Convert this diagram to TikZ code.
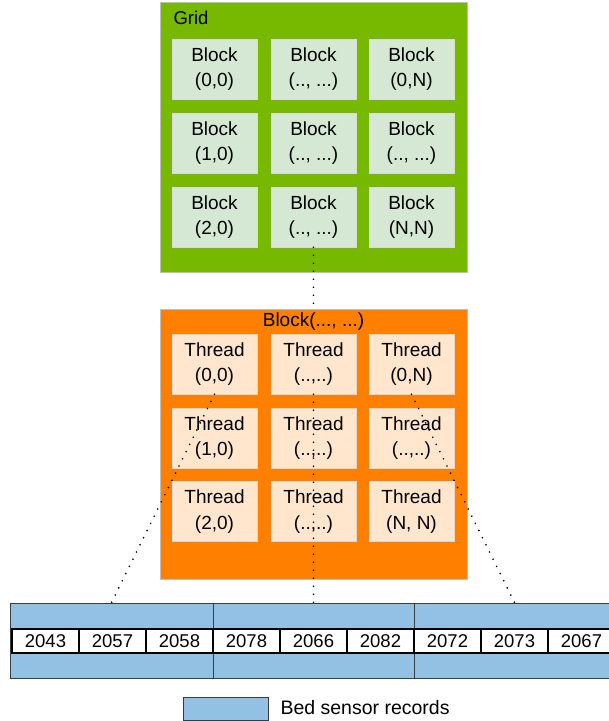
\documentclass[tikz,border=0pt]{standalone}
\usepackage{fontspec}
\setmainfont{Liberation Sans}
\definecolor{gridgreen}{HTML}{77B900}
\definecolor{blockfill}{HTML}{D5E8D4}
\definecolor{orangebox}{HTML}{FF8000}
\definecolor{threadfill}{HTML}{FFE6CC}
\definecolor{recblue}{HTML}{92C1E4}
\definecolor{recborder}{HTML}{3A3D40}
\tikzset{
  outerbox/.style={draw=black!25, line width=0.8pt, minimum width=307pt, minimum height=270pt, inner sep=0pt},
  cellbox/.style={draw=black!15, line width=0.5pt, minimum width=85pt, minimum height=60pt, inner sep=0pt, align=center, font=\fontsize{19}{25.5}\selectfont},
  blockcell/.style={cellbox, fill=blockfill},
  threadcell/.style={cellbox, fill=threadfill},
  recsec/.style={draw=recborder, line width=1pt, fill=recblue, minimum width=201pt, minimum height=75pt, inner sep=0pt},
  numcell/.style={draw=black, line width=1.6pt, fill=white, minimum width=67pt, minimum height=24pt, inner sep=0pt, font=\fontsize{18.5}{20}\selectfont},
  dotline/.style={line width=1.8pt, dash pattern=on 0pt off 8pt, line cap=round},
}
\begin{document}
\begin{tikzpicture}[x=1pt,y=-1pt]
\useasboundingbox (0,0) rectangle (609,721);
\clip (0,0) rectangle (609,721);
% Grid
\node[outerbox, fill=gridgreen] (grid) at (313.5,137) {};
\node[anchor=west, font=\fontsize{18.5}{20}\selectfont] (gridlbl) at (170,18) {Grid};
\node[blockcell] (b00) at (214.5,69) {Block\\(0,0)};
\node[blockcell] (b01) at (313.5,69) {Block\\(.., ...)};
\node[blockcell] (b02) at (411.5,69) {Block\\(0,N)};
\node[blockcell] (b10) at (214.5,143) {Block\\(1,0)};
\node[blockcell] (b11) at (313.5,143) {Block\\(.., ...)};
\node[blockcell] (b12) at (411.5,143) {Block\\(.., ...)};
\node[blockcell] (b20) at (214.5,217) {Block\\(2,0)};
\node[blockcell] (b21) at (313.5,217) {Block\\(.., ...)};
\node[blockcell] (b22) at (411.5,217) {Block\\(N,N)};
% Block
\node[outerbox, fill=orangebox] (blk) at (313.5,444) {};
\node[font=\fontsize{19}{20}\selectfont] (blklbl) at (313.5,322) {Block(..., ...)};
\node[threadcell] (t00) at (214.5,364) {Thread\\(0,0)};
\node[threadcell] (t01) at (313.5,364) {Thread\\(..,..)};
\node[threadcell] (t02) at (411.5,364) {Thread\\(0,N)};
\node[threadcell] (t10) at (214.5,438) {Thread\\(1,0)};
\node[threadcell] (t11) at (313.5,438) {Thread\\(..,..)};
\node[threadcell] (t12) at (411.5,438) {Thread\\(..,..)};
\node[threadcell] (t20) at (214.5,511.5) {Thread\\(2,0)};
\node[threadcell] (t21) at (313.5,511.5) {Thread\\(..,..)};
\node[threadcell] (t22) at (411.5,511.5) {Thread\\(N, N)};
% Records
\node[recsec, minimum width=203pt] (s1) at (111.5,640.5) {};
\node[recsec] (s2) at (313.5,640.5) {};
\node[recsec] (s3) at (514.5,640.5) {};
\foreach \v [count=\i from 0] in {2043,2057,2058,2078,2066,2082,2072,2073,2067} {
  \node[numcell] (n\i) at ({12+33.5+67*\i},641) {\v};
}
% connectors
\draw[dotline] (b21.south) -- (blk.north);
\draw[dotline] (t00.south) -- (s1.north);
\draw[dotline] (t01.south) -- (s2.north);
\draw[dotline] (t02.south) -- (s3.north);
% legend
\node[draw=recborder, line width=1pt, fill=recblue, minimum width=85pt, minimum height=23pt, inner sep=0pt] (leg) at (225.5,708.5) {};
\node[anchor=west, font=\fontsize{19.5}{21}\selectfont] (legtxt) at (277,708) {Bed sensor records};
\end{tikzpicture}
\end{document}
